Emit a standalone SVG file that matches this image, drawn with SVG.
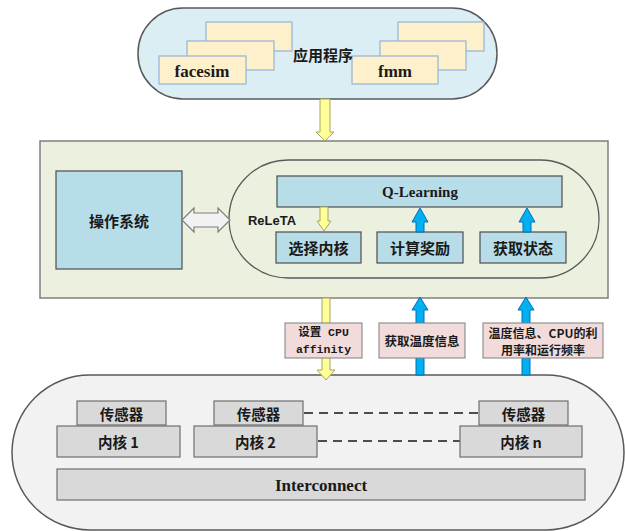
<svg xmlns="http://www.w3.org/2000/svg" width="625" height="531" viewBox="0 0 625 531">
<style>
.cjk{font-family:"Noto Sans CJK SC","Liberation Sans",sans-serif;font-weight:bold;fill:#1a1a1a;text-anchor:middle;dominant-baseline:central}
.ser{font-family:"Liberation Serif",serif;font-weight:bold;fill:#1a1a1a;text-anchor:middle;dominant-baseline:central}
.mono{font-family:"Liberation Mono","Noto Sans CJK SC",monospace;font-weight:bold;fill:#1a1a1a;text-anchor:middle;dominant-baseline:central;font-size:11.5px}
.app{fill:#fff0cc;stroke:#95b3d7;stroke-width:1.2}
.blue{fill:#b7dde8;stroke:#4d4d4d;stroke-width:1.2}
.grey{fill:#d9d9d9;stroke:#6f6f6f;stroke-width:1.2}
.lbl{fill:#f2dcdb;stroke:#7f7f7f;stroke-width:1}
.ya{fill:#ffff99;stroke:#a6a660;stroke-width:1}
.ba{fill:#00b0f0;stroke:#0070c0;stroke-width:1}
.dash{stroke:#4d4d4d;stroke-width:2;stroke-dasharray:9 6;fill:none}
</style>
<rect width="625" height="531" fill="#ffffff"/>

<g id="apps">
<rect x="138" y="8" width="359" height="91" rx="45" ry="45" fill="#dbeef4" stroke="#595959" stroke-width="1.5"/>
<rect class="app" x="206" y="22" width="86" height="29"/>
<rect class="app" x="187" y="41" width="87" height="29"/>
<rect class="app" x="159" y="56" width="87" height="28"/>
<rect class="app" x="398" y="22" width="86" height="29"/>
<rect class="app" x="380" y="41" width="86" height="29"/>
<rect class="app" x="352" y="56" width="86" height="28"/>
<text class="cjk" x="323" y="54" font-size="15">应用程序</text>
<text class="ser" x="202" y="71" font-size="17">facesim</text>
<text class="ser" x="395" y="71" font-size="17">fmm</text>
</g>

<g id="system">
<rect x="40" y="141" width="568" height="157" fill="#ebf1de" stroke="#7f7f7f" stroke-width="1.5"/>
</g>
<g id="os">
<rect class="blue" x="56" y="171" width="126" height="98"/>
<text class="cjk" x="119" y="220" font-size="15">操作系统</text>
</g>
<g id="releta">
<rect x="229" y="160" width="370" height="118" rx="59" ry="59" fill="#ebf1de" stroke="#595959" stroke-width="1.3"/>
<text x="248" y="220" font-family="'Liberation Sans Narrow','Liberation Sans',sans-serif" font-weight="bold" font-size="13" fill="#1a1a1a" dominant-baseline="central" textLength="48" lengthAdjust="spacingAndGlyphs">ReLeTA</text>
</g>
<g id="qlearning">
<rect class="blue" x="277" y="176" width="285" height="31"/>
<text class="ser" x="420" y="192" font-size="15">Q-Learning</text>
</g>
<g id="select">
<rect class="blue" x="276" y="232" width="85" height="31"/>
<text class="cjk" x="318.5" y="247.5" font-size="15">选择内核</text>
</g>
<g id="reward">
<rect class="blue" x="377" y="232" width="86" height="31"/>
<text class="cjk" x="420" y="247.5" font-size="15">计算奖励</text>
</g>
<g id="state">
<rect class="blue" x="480" y="232" width="86" height="31"/>
<text class="cjk" x="523" y="247.5" font-size="15">获取状态</text>
</g>

<g id="hardware">
<rect x="12" y="375" width="612" height="155" rx="78" ry="78" fill="#f2f2f2" stroke="#595959" stroke-width="1.5"/>
</g>
<g id="connectors">
<polygon class="ya" points="320,99 330,99 330,132 334,132 325,141 316,132 320,132"/>
<polygon points="182,220 194,208 194,213 218,213 218,208 230,220 218,232 218,227 194,227 194,232" fill="#f2f2f2" stroke="#7f7f7f" stroke-width="1.2"/>
<polygon class="ya" points="320,207 328,207 328,221 331,221 324,231 317,221 320,221"/>
<polygon class="ba" points="420,208 428,222 424,222 424,232 416,232 416,222 412,222"/>
<polygon class="ba" points="527,208 535,222 531,222 531,232 523,232 523,222 519,222"/>
<polygon class="ya" points="322,298 330,298 330,370 335,370 326,380 317,370 322,370"/>
<polygon class="ba" points="420,297 428,310 424,310 424,375 416,375 416,310 412,310"/>
<polygon class="ba" points="526,297 534,310 530,310 530,375 522,375 522,310 518,310"/>
<line class="dash" x1="304" y1="413" x2="479" y2="413"/>
<line class="dash" x1="318" y1="441" x2="460" y2="441"/>
</g>
<g id="label-affinity">
<rect class="lbl" x="285" y="323" width="77" height="35"/>
<text class="mono" x="323.5" y="332.5">设置 CPU</text>
<text class="mono" x="323.5" y="349.5">affinity</text>
</g>
<g id="label-temp">
<rect class="lbl" x="379" y="323" width="86" height="35"/>
<text class="cjk" x="422" y="340" font-size="12.5">获取温度信息</text>
</g>
<g id="label-util">
<rect class="lbl" x="483" y="323" width="120" height="35"/>
<text class="cjk" x="543" y="332.5" font-size="12">温度信息、CPU的利</text>
<text class="cjk" x="543" y="349.5" font-size="12">用率和运行频率</text>
</g>

<g id="sensor1">
<rect class="grey" x="77" y="401" width="89" height="24"/>
<text class="cjk" x="121.5" y="413" font-size="14.5">传感器</text>
</g>
<g id="core1">
<rect class="grey" x="57" y="426" width="123" height="31"/>
<text class="cjk" x="118.5" y="441.5" font-size="14.5">内核 1</text>
</g>
<g id="sensor2">
<rect class="grey" x="214" y="401" width="89" height="24"/>
<text class="cjk" x="258.5" y="413" font-size="14.5">传感器</text>
</g>
<g id="core2">
<rect class="grey" x="194" y="426" width="123" height="31"/>
<text class="cjk" x="255.5" y="441.5" font-size="14.5">内核 2</text>
</g>
<g id="sensorn">
<rect class="grey" x="479" y="401" width="89" height="24"/>
<text class="cjk" x="523.5" y="413" font-size="14.5">传感器</text>
</g>
<g id="coren">
<rect class="grey" x="460" y="426" width="122" height="31"/>
<text class="cjk" x="521" y="441.5" font-size="14.5">内核 n</text>
</g>
<g id="interconnect">
<rect class="grey" x="57" y="469" width="528" height="31"/>
<text class="ser" x="321" y="485" font-size="17">Interconnect</text>
</g>
</svg>
